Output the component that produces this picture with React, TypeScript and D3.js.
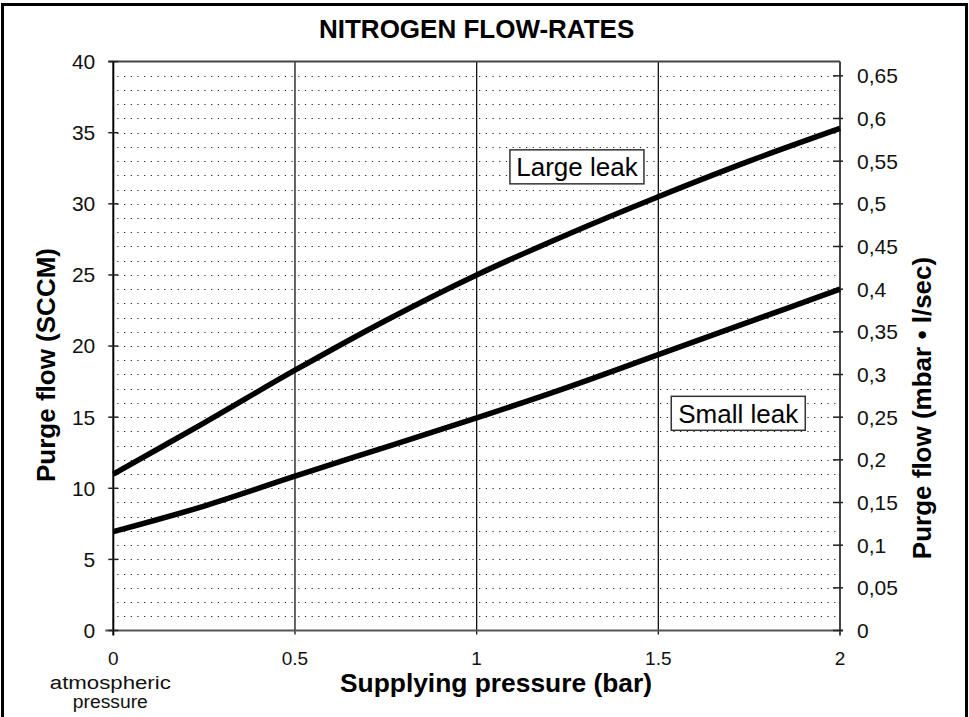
import React from 'react'
import * as d3 from 'd3'

// supplying pressure (bar) -> purge flow (SCCM)
const pressure = [0, 0.25, 0.5, 0.75, 1, 1.25, 1.5, 1.75, 2]
const largeLeak = [11.0, 14.6, 18.3, 21.8, 25.0, 27.85, 30.5, 33.0, 35.3]
const smallLeak = [6.95, 8.75, 10.85, 12.9, 14.95, 17.1, 19.4, 21.7, 24.0]

const xTicks = [0, 0.5, 1, 1.5, 2]
const xTickLabels = ['0', '0.5', '1', '1.5', '2']
const leftTicks = [0, 5, 10, 15, 20, 25, 30, 35, 40]
const rightTicks = d3.range(0, 0.66, 0.05)

const seriesNames = ['Large leak', 'Small leak']
// label box centres in data units (bar, SCCM)
const labelAt = [[1.276, 32.6], [1.72, 15.27]]

const W = 969
const H = 717
const margin = { top: 61.6, right: 129, bottom: 86.5, left: 113.3 }
const FONT = "'Liberation Sans', Arial, Helvetica, sans-serif"

const commaFmt = d3.formatLocale({ decimal: ',', thousands: '.', grouping: [3], currency: ['', ''] }).format('~g')

export default function App() {
	const x = d3.scaleLinear().domain([0, 2]).range([margin.left, W - margin.right])
	const y = d3.scaleLinear().domain([0, 40]).range([H - margin.bottom, margin.top])
	// 1 SCCM = 1/60 mbar·l/s
	const y2 = d3.scaleLinear().domain([0, 40 / 60]).range([H - margin.bottom, margin.top])

	const line = d3.line<number>()
		.curve(d3.curveCatmullRom.alpha(0.5))
		.x((_, i) => x(pressure[i]))
		.y(d => y(d))

	const x0 = x(0)
	const x1 = x(2)
	const yb = y(0)
	const yt = y(40)

	return (
		<svg width={W} height={H} style={{ position: 'absolute', left: 0, top: 0, background: '#fff' }} fontFamily={FONT}>
			<rect x={0} y={0} width={W} height={H} fill="#fff" />
			<rect x={2.5} y={4.5} width={W - 5} height={H + 10} fill="none" stroke="#000" strokeWidth={3} />

			<text x={(x0 + x1) / 2} y={38} textAnchor="middle" fontWeight="bold" fontSize={26}>NITROGEN FLOW-RATES</text>

			{/* dotted minor rows every 1 SCCM */}
			<g stroke="#222" strokeWidth={1.2} strokeDasharray="1.2 5.5">
				{d3.range(1, 40).map(v => (
					<line key={v} x1={x0 + 4} x2={x1 - 2} y1={Math.round(y(v)) + 0.5} y2={Math.round(y(v)) + 0.5} />
				))}
			</g>

			{/* vertical grid */}
			<g stroke="#111" strokeWidth={1.3}>
				{xTicks.slice(1, -1).map(v => (
					<line key={v} x1={x(v)} x2={x(v)} y1={yt} y2={yb + 4} />
				))}
			</g>

			{/* frame */}
			<line x1={x0 - 5} x2={x1} y1={yt} y2={yt} stroke="#444" strokeWidth={2} />
			<line x1={x0 - 8} x2={x1 + 3} y1={yb} y2={yb} stroke="#555" strokeWidth={2} />
			<line x1={x0} x2={x0} y1={yt} y2={yb + 5} stroke="#000" strokeWidth={2} />
			<line x1={x1} x2={x1} y1={yt} y2={yb + 5} stroke="#444" strokeWidth={2} />

			{/* left axis */}
			<g fontSize={21} fill="#111">
				{leftTicks.map(v => (
					<g key={v}>
						<line x1={x0 - 5} x2={x0 + 5} y1={y(v)} y2={y(v)} stroke="#222" strokeWidth={1.5} />
						<text x={x0 - 18} y={y(v)} dy="0.35em" textAnchor="end">{v}</text>
					</g>
				))}
			</g>

			{/* right axis */}
			<g fontSize={21} fill="#111">
				{rightTicks.map(v => (
					<g key={v}>
						<line x1={x1 - 7} x2={x1 + 3} y1={y2(v)} y2={y2(v)} stroke="#222" strokeWidth={1.5} />
						<text x={x1 + 17} y={y2(v)} dy="0.35em">{commaFmt(v)}</text>
					</g>
				))}
			</g>

			{/* bottom axis labels */}
			<g fontSize={19} fill="#111" textAnchor="middle">
				{xTicks.map((v, i) => (
					<text key={v} x={x(v)} y={665}>{xTickLabels[i]}</text>
				))}
				<text x={x0 - 3} y={689} fontSize={18} textLength={121} lengthAdjust="spacingAndGlyphs">atmospheric</text>
				<text x={x0 - 3} y={708} fontSize={18} textLength={75} lengthAdjust="spacingAndGlyphs">pressure</text>
			</g>

			{/* axis titles */}
			<text x={496} y={692} textAnchor="middle" fontWeight="bold" fontSize={25} textLength={312} lengthAdjust="spacingAndGlyphs">Supplying pressure (bar)</text>
			<text transform="translate(55,365) rotate(-90)" textAnchor="middle" fontWeight="bold" fontSize={26}>Purge flow (SCCM)</text>
			<text transform="translate(931,408) rotate(-90)" textAnchor="middle" fontWeight="bold" fontSize={26}>Purge flow (mbar • l/sec)</text>

			{/* curves */}
			<g fill="none" stroke="#000" strokeWidth={5.5} strokeLinejoin="round">
				<path d={line(largeLeak) || ''} />
				<path d={line(smallLeak) || ''} />
			</g>

			{/* series labels */}
			{seriesNames.map((name, i) => {
				const cx = x(labelAt[i][0])
				const cy = y(labelAt[i][1])
				return (
					<g key={name}>
						<rect x={cx - 67} y={cy - 17} width={134} height={34} fill="#fff" stroke="#333" strokeWidth={1.5} />
						<text x={cx} y={cy} dy="0.36em" textAnchor="middle" fontSize={26}>{name}</text>
					</g>
				)
			})}
		</svg>
	)
}
